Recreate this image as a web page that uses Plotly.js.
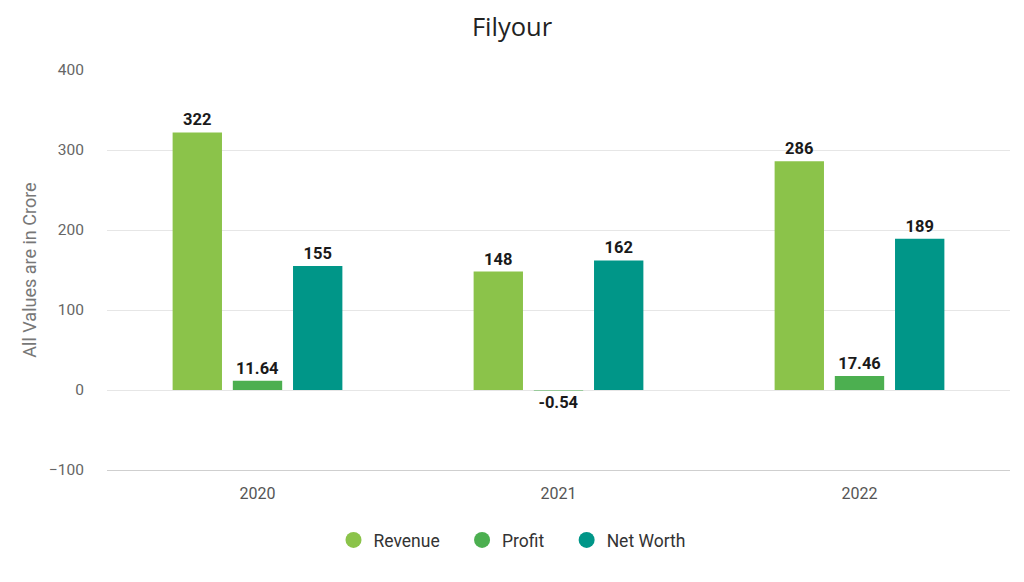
<!DOCTYPE html>
<html>
<head>
<meta charset="utf-8">
<script src="https://cdn.plot.ly/plotly-3.0.1.min.js"></script>
<style>html,body{margin:0;padding:0;background:#fff;}#chart{width:1024px;height:582px;}</style>
</head>
<body>
<div id="chart"></div>
<script>
const years = ['2020', '2021', '2022'];
const revenue = [322, 148, 286];
const profit = [11.64, -0.54, 17.46];
const netWorth = [155, 162, 189];
const seriesNames = ['Revenue', 'Profit', 'Net Worth'];
const seriesColors = ['#8BC34A', '#4CAF50', '#009688'];
const yTicks = [-100, 0, 100, 200, 300, 400];

const seriesValues = [revenue, profit, netWorth];
const labelFont = {family: 'Roboto', size: 16.5, color: '#1a1a1a', weight: 'bold'};

const traces = seriesValues.map((vals, i) => ({
  type: 'bar',
  name: seriesNames[i],
  x: years,
  y: vals,
  text: vals.map(v => String(v)),
  marker: {color: seriesColors[i]},
  texttemplate: '%{text}',
  textposition: 'outside',
  textfont: labelFont,
  cliponaxis: false,
  showlegend: false,
  hoverinfo: 'x+y+name'
}));

const pad = '\u00a0\u00a0\u00a0\u00a0';
const legendProxies = seriesNames.map((n, i) => ({
  type: 'scatter',
  mode: 'markers',
  name: i < seriesNames.length - 1 ? n + pad : n,
  x: [years[0]],
  y: [null],
  marker: {color: seriesColors[i], size: 19, symbol: 'circle'},
  showlegend: true,
  hoverinfo: 'skip'
}));

const layout = {
  width: 1024,
  height: 582,
  paper_bgcolor: '#ffffff',
  plot_bgcolor: '#ffffff',
  margin: {l: 107, r: 14, t: 70, b: 112},
  title: {
    text: 'Filyour',
    x: 0.5, xref: 'container', xanchor: 'center',
    y: 1 - 27 / 582, yref: 'container', yanchor: 'middle',
    font: {family: 'Open Sans', size: 25.5, color: '#222'}
  },
  barmode: 'group',
  bargap: 0.40,
  bargroupgap: 0.18,
  xaxis: {
    type: 'category',
    showgrid: false,
    showline: true,
    linecolor: '#cfcfcf',
    linewidth: 1,
    ticks: '',
    ticklabelstandoff: 9,
    tickfont: {family: 'Roboto', size: 16, color: '#555'},
    zeroline: false
  },
  yaxis: {
    range: [-100, 400],
    tickvals: yTicks,
    showgrid: true,
    gridcolor: '#e6e6e6',
    gridwidth: 1,
    zeroline: true,
    zerolinecolor: '#e6e6e6',
    zerolinewidth: 1,
    showline: false,
    ticks: '',
    ticklabelstandoff: 22,
    tickfont: {family: 'Roboto', size: 15.5, color: '#666'},
    title: {text: 'All Values are in Crore', standoff: 7, font: {family: 'Roboto', size: 18, color: '#777'}}
  },
  legend: {
    orientation: 'h',
    x: 0.5, xanchor: 'center', xref: 'container',
    y: 1 - 540 / 582, yref: 'container', yanchor: 'middle',
    font: {family: 'Roboto', size: 17.5, color: '#333'},
    itemwidth: 30,
    traceorder: 'normal'
  },
  showlegend: true
};

Plotly.newPlot('chart', traces.concat(legendProxies), layout, {displayModeBar: false, staticPlot: true});
</script>
</body>
</html>
